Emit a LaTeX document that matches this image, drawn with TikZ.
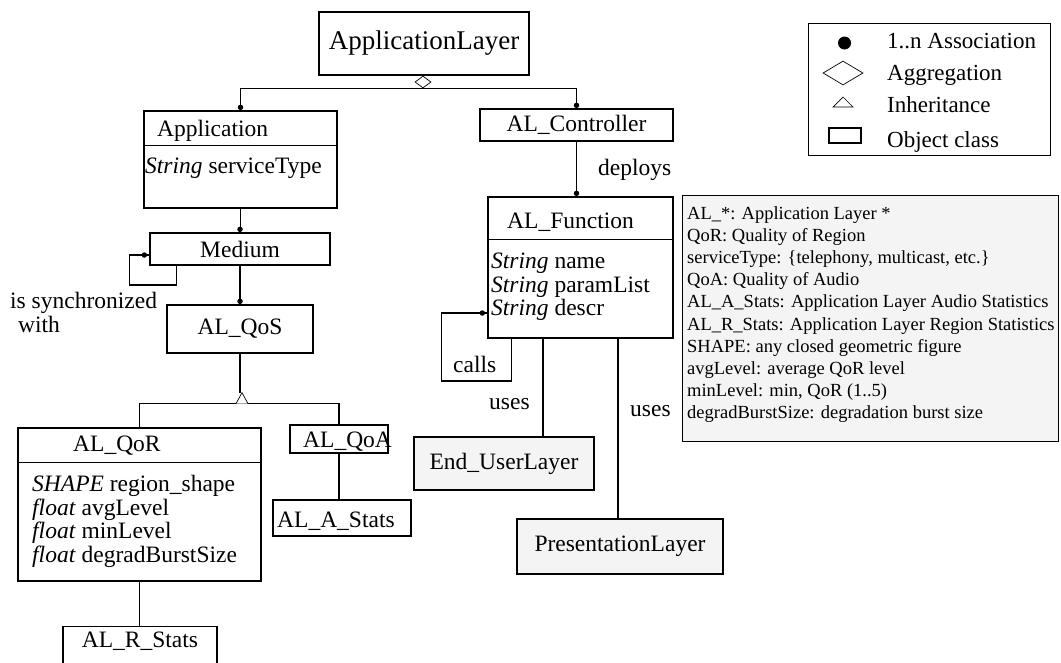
\documentclass[tikz,border=0pt]{standalone}
\usepackage{fontspec}
\setmainfont{Liberation Serif}
\usetikzlibrary{calc,shapes.geometric}
\definecolor{boxgray}{RGB}{244,244,244}
\begin{document}
\begin{tikzpicture}[x=1pt,y=-1pt,
  lw/.style={line width=1.3pt},
  box/.style={draw, line width=1.3pt, inner sep=0pt, fill=white},
  gbox/.style={box, fill=boxgray},
  txt/.style={font=\fontsize{23.5}{27}\selectfont, inner sep=0pt},
  bigtxt/.style={font=\fontsize{27}{31}\selectfont, inner sep=0pt},
  notetxt/.style={font=\fontsize{18.5}{22}\selectfont, inner sep=0pt, anchor=base west},
  legtxt/.style={font=\fontsize{23}{27}\selectfont, inner sep=0pt, anchor=base west},
  dot/.style={circle, fill=black, inner sep=0pt, minimum size=5.5pt},
  attr/.style={txt, anchor=base west}]
\useasboundingbox (0,0) rectangle (1061,662);

% ---------- boxes ----------
\node[box, minimum width=210, minimum height=63] (al) at (424,43.5) {};
\node[bigtxt] (alT) at (al.center) {ApplicationLayer};

\node[box, minimum width=193, minimum height=97] (app) at (240.5,159.5) {};
\draw[lw] ($(app.north west)+(0,35)$) -- ($(app.north east)+(0,35)$);
\node[attr] (appT) at (157,136) {Application};
\node[attr] (appA) at (145,173) {\textit{String} serviceType};

\node[box, minimum width=193, minimum height=32, txt] (ctrl) at (576.5,125) {AL\_Controller};

\node[box, minimum width=185, minimum height=141] (fun) at (580.5,267.5) {};
\draw[lw] ($(fun.north west)+(0,43)$) -- ($(fun.north east)+(0,43)$);
\node[attr] (funT) at (507,228) {AL\_Function};
\node[attr] (funA) at (491,268) {\textit{String} name};
\node[attr] (funB) at (491,292) {\textit{String} paramList};
\node[attr] (funC) at (491,315) {\textit{String} descr};

\node[box, minimum width=180, minimum height=32, txt] (med) at (240,249) {Medium};
\node[box, minimum width=146, minimum height=48, txt] (qos) at (240,329) {AL\_QoS};

\node[box, minimum width=243, minimum height=153] (qor) at (139.5,504.5) {};
\draw[lw] ($(qor.north west)+(0,35)$) -- ($(qor.north east)+(0,35)$);
\node[attr] (qorT) at (73,451) {AL\_QoR};
\node[attr] (qorA) at (32,491) {\textit{SHAPE} region\_shape};
\node[attr] (qorB) at (32,515) {\textit{float} avgLevel};
\node[attr] (qorC) at (32,538) {\textit{float} minLevel};
\node[attr] (qorD) at (32,562) {\textit{float} degradBurstSize};

\node[box, minimum width=98, minimum height=28] (qoa) at (339,439) {};
\node[attr] (qoaT) at (303,447) {AL\_QoA};

\node[box, minimum width=138, minimum height=36] (astats) at (342,518) {};
\node[attr] (astatsT) at (277,527) {AL\_A\_Stats};

\node[box, minimum width=154, minimum height=60, anchor=north] (rstats) at (140,626) {};
\node[txt, anchor=base] (rstatsT) at (140,647) {AL\_R\_Stats};

\node[gbox, minimum width=180, minimum height=53, txt] (eul) at (504,463.5) {End\_UserLayer};
\node[gbox, minimum width=206, minimum height=55, txt] (pres) at (620,546.5) {PresentationLayer};

% ---------- aggregation ----------
\node[diamond, draw, line width=0.7pt, fill=white, inner sep=0pt,
      minimum width=16, minimum height=12] (agg) at (423,82) {};
\draw[lw] (app.north) |- (agg.south) -| (ctrl.north);
\node[dot] (d1) at ([yshift=3pt]app.north) {};
\node[dot] (d2) at ([yshift=3pt]ctrl.north) {};

% ---------- deploys ----------
\coordinate (dep) at (ctrl.south |- fun.north);
\draw[lw] (ctrl.south) -- (dep);
\node[dot] (d3) at ([yshift=3pt]dep) {};
\node[attr] (depL) at (598,175) {deploys};

% ---------- calls ----------
\draw[lw] ([yshift=-45.5pt]fun.west) -- ++(-46,0) -- ++(0,68) -- ++(70,0) -- ++(0,-43);
\node[dot] (d4) at ([xshift=-5pt,yshift=-45.5pt]fun.west) {};
\node[attr] (callsL) at (453,372) {calls};

% ---------- uses ----------
\coordinate (u1) at ($(fun.south)+(-37.5,0)$);
\coordinate (u2) at ($(fun.south)+(37.5,0)$);
\draw[lw] (u1) -- (u1 |- eul.north);
\draw[lw] (u2) -- (u2 |- pres.north);
\node[attr] (uses1) at (489,409) {uses};
\node[attr] (uses2) at (630,416) {uses};

% ---------- application - medium - qos ----------
\draw[lw] (app.south) -- (app.south |- med.north);
\node[dot] (d5) at ([yshift=3pt]med.north) {};
\draw[lw] (med.south) -- (qos.north);
\node[dot] (d6) at ([yshift=3pt]qos.north) {};

% medium self loop
\draw[lw] ([yshift=-6pt]med.west) -- ++(-20,0) -- ++(0,30) -- ++(47,0) -- ++(0,-20);
\node[dot] (d7) at ([xshift=-5pt,yshift=-6pt]med.west) {};
\node[attr] (syncA) at (10,308) {is synchronized};
\node[attr] (syncB) at (18,332) {with};

% ---------- inheritance ----------
\coordinate (inh) at ($(qos.south)+(2,50)$);
\coordinate (inhtip) at ($(inh)+(0,-11)$);
\draw[lw] (qos.south) -- (qos.south |- inhtip);
\draw[lw] (qor.north) |- (inh) -| (qoa.north);
\draw[line width=0.7pt, fill=white] ($(inh)+(-6,0)$) -- (inhtip) -- ($(inh)+(6,0)$);

\draw[lw] (qor.south) -- (qor.south |- rstats.north);
\draw[lw] (qoa.south) -- (qoa.south |- astats.north);

% ---------- note box ----------
\node[gbox, minimum width=376, minimum height=246, anchor=north west] (note) at (682,195) {};
\foreach \t [count=\i from 0] in {
  {AL\_*: Application Layer *},
  {QoR: Quality of Region},
  {serviceType: \{telephony, multicast, etc.\}},
  {QoA: Quality of Audio},
  {AL\_A\_Stats: Application Layer Audio Statistics},
  {AL\_R\_Stats: Application Layer Region Statistics},
  {SHAPE: any closed geometric figure},
  {avgLevel: average QoR level},
  {minLevel: min, QoR (1..5)},
  {degradBurstSize: degradation burst size}}
  \node[notetxt] (n\i) at (687,219+22.2*\i) {\t};

% ---------- legend ----------
\node[box, minimum width=242, minimum height=132, anchor=north west] (leg) at (808,23) {};
\node[circle, fill=black, inner sep=0pt, minimum size=13pt] (lgdot) at (844.5,43) {};
\node[diamond, draw, line width=0.7pt, inner sep=0pt, minimum width=40, minimum height=24] (lgdia) at (843,73) {};
\draw[line width=0.7pt] (833,107) -- (843,97) -- (853,107) -- cycle;
\node[draw, line width=1.3pt, inner sep=0pt, minimum width=32, minimum height=15] (lgrect) at (845,135.5) {};
\node[legtxt] (lg1) at (887,48) {1..n Association};
\node[legtxt] (lg2) at (887,80) {Aggregation};
\node[legtxt] (lg3) at (887,112) {Inheritance};
\node[legtxt] (lg4) at (887,147) {Object class};
\end{tikzpicture}
\end{document}
